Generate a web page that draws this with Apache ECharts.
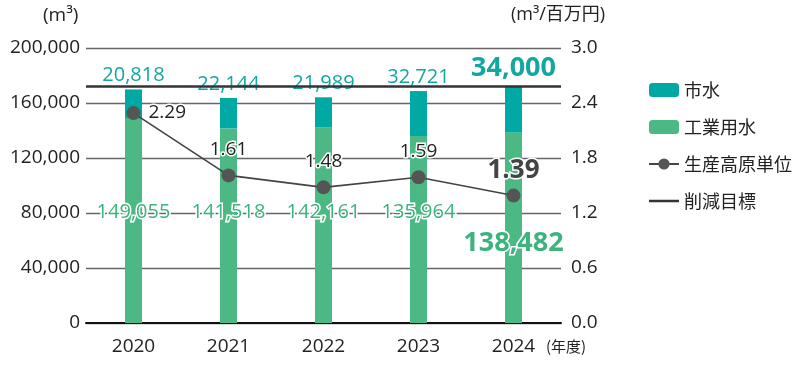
<!DOCTYPE html>
<html><head><meta charset="utf-8">
<script src="https://cdn.jsdelivr.net/npm/echarts@6/dist/echarts.min.js"></script>
<style>html,body{margin:0;padding:0;background:#fff}#c{width:800px;height:380px}</style>
</head><body><div id="c"></div>
<script>
const years = ['2020','2021','2022','2023','2024'];
const cityWater = [20818, 22144, 21989, 32721, 34000];
const industrialWater = [149055, 141518, 142161, 135964, 138482];
const intensity = [2.29, 1.61, 1.48, 1.59, 1.39];
const target = [172482];
const leftTicks = [0, 40000, 80000, 120000, 160000, 200000];
const rightTicks = [0, 0.6, 1.2, 1.8, 2.4, 3.0];

const FONT = '"Open Sans", "Noto Sans CJK JP", sans-serif';
const JFONT = '"Noto Sans CJK JP", "Open Sans", sans-serif';
const TEAL = '#00a9a4', GREEN = '#4cb985', DARK = '#555555';
const last = years.length - 1;
const fmt = v => v.toLocaleString('en-US');

const chart = echarts.init(document.getElementById('c'), null, {renderer: 'canvas'});
chart.setOption({
  animation: false,
  textStyle: {fontFamily: FONT},
  grid: {left: 86, right: 239, top: 48, bottom: 57},
  legend: {
    orient: 'vertical', left: 643, top: 76, itemWidth: 30, itemHeight: 14, itemGap: 19,
    symbolKeepAspect: true,
    textStyle: {fontSize: 18, color: '#222', fontFamily: JFONT},
    data: ['市水', '工業用水', '生産高原単位',
      {name: '削減目標', icon: 'path://M0,0 L30,0 L30,2.5 L0,2.5 Z'}]
  },
  xAxis: {
    type: 'category', data: years,
    axisLine: {lineStyle: {color: '#111', width: 2}},
    axisTick: {show: false},
    axisLabel: {fontSize: 19, color: '#222', margin: 14}
  },
  yAxis: [{
    type: 'value', min: leftTicks[0], max: leftTicks[leftTicks.length - 1], interval: leftTicks[1] - leftTicks[0],
    axisLine: {show: false}, axisTick: {show: false},
    axisLabel: {fontSize: 19, color: '#222', margin: 6, formatter: v => fmt(v)},
    splitLine: {lineStyle: {color: '#666', width: 1.3}}
  }, {
    type: 'value', min: rightTicks[0], max: rightTicks[rightTicks.length - 1], interval: 0.6,
    axisLine: {show: false}, axisTick: {show: false},
    axisLabel: {fontSize: 19, color: '#222', margin: 10, formatter: v => v.toFixed(1)},
    splitLine: {show: false}
  }],
  graphic: [
    {type: 'text', left: 43, top: 6, style: {text: '(m³)', font: '19px ' + FONT, fill: '#222'}},
    {type: 'text', left: 511, top: 6, style: {text: '(m³/百万円)', font: '18px ' + FONT, fill: '#222'}},
    {type: 'text', left: 546, top: 339, style: {text: '(年度)', font: '15px ' + JFONT, fill: '#222'}}
  ],
  series: [{
    name: '工業用水', type: 'bar', stack: 'w', barWidth: 17,
    itemStyle: {color: GREEN},
    data: industrialWater.map((v, i) => i === last ? {
      value: v,
      label: {fontSize: 27, fontWeight: 'bold', distance: 66}
    } : v),
    label: {
      show: true, position: 'insideBottom', distance: 101,
      fontSize: 20, color: '#3cb47c', textBorderColor: '#fff', textBorderWidth: 3,
      formatter: p => fmt(p.value)
    },
    z: 2
  }, {
    name: '市水', type: 'bar', stack: 'w', barWidth: 17,
    itemStyle: {color: TEAL},
    data: cityWater.map((v, i) => i === last ? {
      value: v,
      label: {fontSize: 27, fontWeight: 'bold', distance: 4}
    } : v),
    label: {
      show: true, position: 'top', distance: 4,
      fontSize: 20, color: '#14a6a1', textBorderColor: '#fff', textBorderWidth: 3,
      formatter: p => fmt(p.value)
    },
    z: 2
  }, {
    name: '生産高原単位', type: 'line', yAxisIndex: 1,
    data: intensity.map((v, i) => i === 0 ? {
      value: v, label: {position: 'right', distance: 8}
    } : i === last ? {
      value: v, label: {fontSize: 26, fontWeight: 'bold', distance: 5, color: '#444'}
    } : v),
    symbol: 'circle', symbolSize: 14,
    itemStyle: {color: DARK},
    lineStyle: {color: '#444', width: 1.6},
    label: {
      show: true, position: 'top', distance: 9,
      fontSize: 19, color: '#222', textBorderColor: '#fff', textBorderWidth: 3,
      formatter: p => p.value.toFixed(2)
    },
    z: 5
  }, {
    name: '削減目標', type: 'line', data: [],
    symbol: 'none',
    itemStyle: {color: '#333'},
    lineStyle: {color: '#333', width: 2.5},
    markLine: {
      silent: true, symbol: 'none', label: {show: false},
      lineStyle: {color: '#333', width: 2.5, type: 'solid'},
      data: target.map(t => ({yAxis: t}))
    },
    z: 1
  }]
});
</script></body></html>
